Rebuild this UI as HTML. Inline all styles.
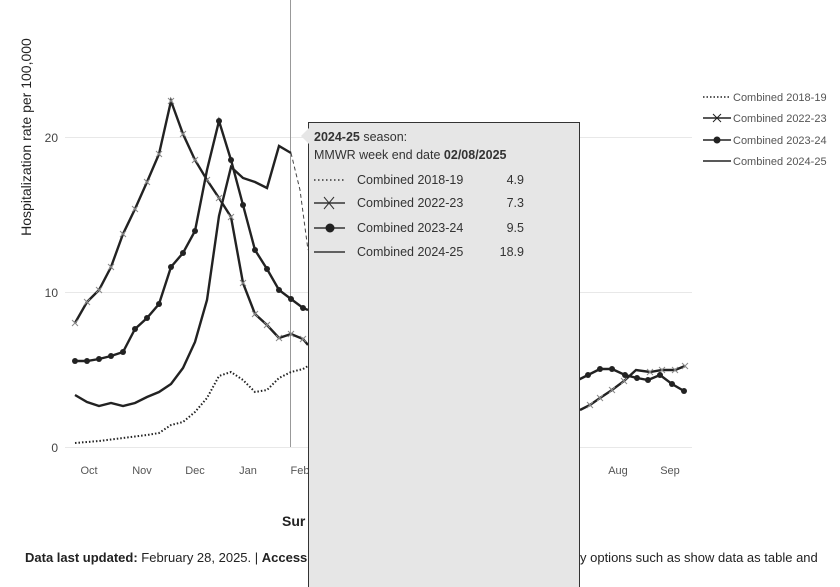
<!DOCTYPE html>
<html><head><style>
html,body{margin:0;padding:0;background:#fff;width:840px;height:587px;overflow:hidden;font-family:"Liberation Sans",sans-serif}
</style></head><body>
<svg width="840" height="587" viewBox="0 0 840 587" xmlns="http://www.w3.org/2000/svg" font-family="Liberation Sans, sans-serif">
<defs>
<g id="xm"><path d="M-3,-3L3,3M-3,3L3,-3" stroke="#888" stroke-width="1"/></g>
</defs>
<g stroke="#e8e8e8" stroke-width="1">
<line x1="65" y1="137.5" x2="692" y2="137.5"/>
<line x1="65" y1="292.5" x2="692" y2="292.5"/>
<line x1="65" y1="447.5" x2="692" y2="447.5"/>
</g>
<g font-size="12" fill="#444" text-anchor="end">
<text x="58" y="142">20</text><text x="58" y="297">10</text><text x="58" y="452">0</text>
</g>
<text transform="translate(31,137) rotate(-90)" font-size="14" fill="#222" text-anchor="middle">Hospitalization rate per 100,000</text>
<g font-size="11" fill="#555" text-anchor="middle">
<text x="89" y="474">Oct</text><text x="142" y="474">Nov</text><text x="195" y="474">Dec</text><text x="248" y="474">Jan</text><text x="300" y="474">Feb</text><text x="618" y="474">Aug</text><text x="670" y="474">Sep</text>
</g>
<line x1="290.5" y1="0" x2="290.5" y2="447" stroke="#999" stroke-width="1"/>
<polyline fill="none" stroke="#222" stroke-width="2" stroke-dasharray="1.5,2" points="75,443 99,441 123,438 147,435 159,433 171,425 183,422 195,412 207,398 219,376 231,372 243,380 255,392 267,390 279,378 291,372 303,369 308,366"/>
<polyline fill="none" stroke="#222" stroke-width="2.4" points="75,395 87,402 99,406 111,403 123,406 135,403 147,397 159,392 171,384 183,368 195,342 207,300 219,216 231,167 243,178 255,182 267,188 279,146 291,153"/>
<polyline fill="none" stroke="#444" stroke-width="1" stroke-dasharray="4,3" points="291,153 300,190 308,250"/>
<polyline fill="none" stroke="#222" stroke-width="2.4" points="75,323 87,302 99,290 111,267 123,234 135,209 147,182 159,154 171,101 183,134 195,160 207,180 219,198 231,217 243,283 255,314 267,325 279,338 291,334 303,339 308,345"/>
<polyline fill="none" stroke="#222" stroke-width="2.4" points="580,410 590,405 600,398 612,390 624,381 636,370 650,372 662,370 675,370 685,366"/>
<g>
<use href="#xm" x="75" y="323"/><use href="#xm" x="87" y="302"/><use href="#xm" x="99" y="290"/><use href="#xm" x="111" y="267"/><use href="#xm" x="123" y="234"/><use href="#xm" x="135" y="209"/><use href="#xm" x="147" y="182"/><use href="#xm" x="159" y="154"/><use href="#xm" x="171" y="101"/><use href="#xm" x="183" y="134"/><use href="#xm" x="195" y="160"/><use href="#xm" x="207" y="180"/><use href="#xm" x="219" y="198"/><use href="#xm" x="231" y="217"/><use href="#xm" x="243" y="283"/><use href="#xm" x="255" y="314"/><use href="#xm" x="267" y="325"/><use href="#xm" x="279" y="338"/><use href="#xm" x="291" y="334"/><use href="#xm" x="303" y="339"/>
<use href="#xm" x="590" y="405"/><use href="#xm" x="600" y="398"/><use href="#xm" x="612" y="390"/><use href="#xm" x="624" y="381"/><use href="#xm" x="650" y="372"/><use href="#xm" x="662" y="370"/><use href="#xm" x="675" y="370"/><use href="#xm" x="685" y="366"/>
</g>
<polyline fill="none" stroke="#222" stroke-width="2.4" points="75,361 87,361 99,359 111,356 123,352 135,329 147,318 159,304 171,267 183,253 195,231 207,170 219,121 231,160 243,205 255,250 267,269 279,290 291,299 303,308 308,310"/>
<polyline fill="none" stroke="#222" stroke-width="2.4" points="578,380 588,375 600,369 612,369 625,375 637,378 648,380 660,375 672,384 684,391"/>
<g fill="#222">
<circle cx="75" cy="361" r="3"/><circle cx="87" cy="361" r="3"/><circle cx="99" cy="359" r="3"/><circle cx="111" cy="356" r="3"/><circle cx="123" cy="352" r="3"/><circle cx="135" cy="329" r="3"/><circle cx="147" cy="318" r="3"/><circle cx="159" cy="304" r="3"/><circle cx="171" cy="267" r="3"/><circle cx="183" cy="253" r="3"/><circle cx="195" cy="231" r="3"/><circle cx="219" cy="121" r="3"/><circle cx="231" cy="160" r="3"/><circle cx="243" cy="205" r="3"/><circle cx="255" cy="250" r="3"/><circle cx="267" cy="269" r="3"/><circle cx="279" cy="290" r="3"/><circle cx="291" cy="299" r="3"/><circle cx="303" cy="308" r="3"/>
<circle cx="588" cy="375" r="3"/><circle cx="600" cy="369" r="3"/><circle cx="612" cy="369" r="3"/><circle cx="625" cy="375" r="3"/><circle cx="637" cy="378" r="3"/><circle cx="648" cy="380" r="3"/><circle cx="660" cy="375" r="3"/><circle cx="672" cy="384" r="3"/><circle cx="684" cy="391" r="3"/>
</g>
<g font-size="11" fill="#555">
<line x1="703" y1="97" x2="731" y2="97" stroke="#222" stroke-width="1.5" stroke-dasharray="1.5,2"/><text x="733" y="101">Combined 2018-19</text>
<line x1="703" y1="118" x2="731" y2="118" stroke="#222" stroke-width="1.5"/><path d="M713,114L721,122M713,122L721,114" stroke="#222"/><text x="733" y="122">Combined 2022-23</text>
<line x1="703" y1="140" x2="731" y2="140" stroke="#222" stroke-width="1.5"/><circle cx="717" cy="140" r="3.5" fill="#222"/><text x="733" y="144">Combined 2023-24</text>
<line x1="703" y1="161" x2="731" y2="161" stroke="#222" stroke-width="1.5"/><text x="733" y="165">Combined 2024-25</text>
</g>
<text x="282" y="526" font-size="14" font-weight="bold" fill="#222">Sur</text>
<text x="25" y="562" font-size="13" fill="#222"><tspan font-weight="bold">Data last updated:</tspan> February 28, 2025. | <tspan font-weight="bold">Access</tspan></text>
<text x="580" y="562" font-size="13" fill="#222">y options such as show data as table and</text>
<rect x="308.5" y="122.5" width="271" height="480" fill="#e6e6e6" stroke="#333" stroke-width="1"/>
<path d="M309,128L301,136L309,144Z" fill="#e6e6e6"/>
<g font-size="12.5" fill="#333">
<text x="314" y="141"><tspan font-weight="bold">2024-25</tspan> season:</text>
<text x="314" y="159">MMWR week end date <tspan font-weight="bold">02/08/2025</tspan></text>
<line x1="314" y1="180" x2="345" y2="180" stroke="#333" stroke-width="1.5" stroke-dasharray="1.5,2.5"/>
<text x="357" y="184">Combined 2018-19</text><text x="524" y="184" text-anchor="end">4.9</text>
<line x1="314" y1="203" x2="345" y2="203" stroke="#333" stroke-width="1.5"/><path d="M324,197L334,209M324,209L334,197" stroke="#333"/>
<text x="357" y="207">Combined 2022-23</text><text x="524" y="207" text-anchor="end">7.3</text>
<line x1="314" y1="228" x2="345" y2="228" stroke="#333" stroke-width="1.5"/><circle cx="330" cy="228" r="4.5" fill="#222"/>
<text x="357" y="232">Combined 2023-24</text><text x="524" y="232" text-anchor="end">9.5</text>
<line x1="314" y1="252" x2="345" y2="252" stroke="#333" stroke-width="1.5"/>
<text x="357" y="256">Combined 2024-25</text><text x="524" y="256" text-anchor="end">18.9</text>
</g>
</svg>
</body></html>
